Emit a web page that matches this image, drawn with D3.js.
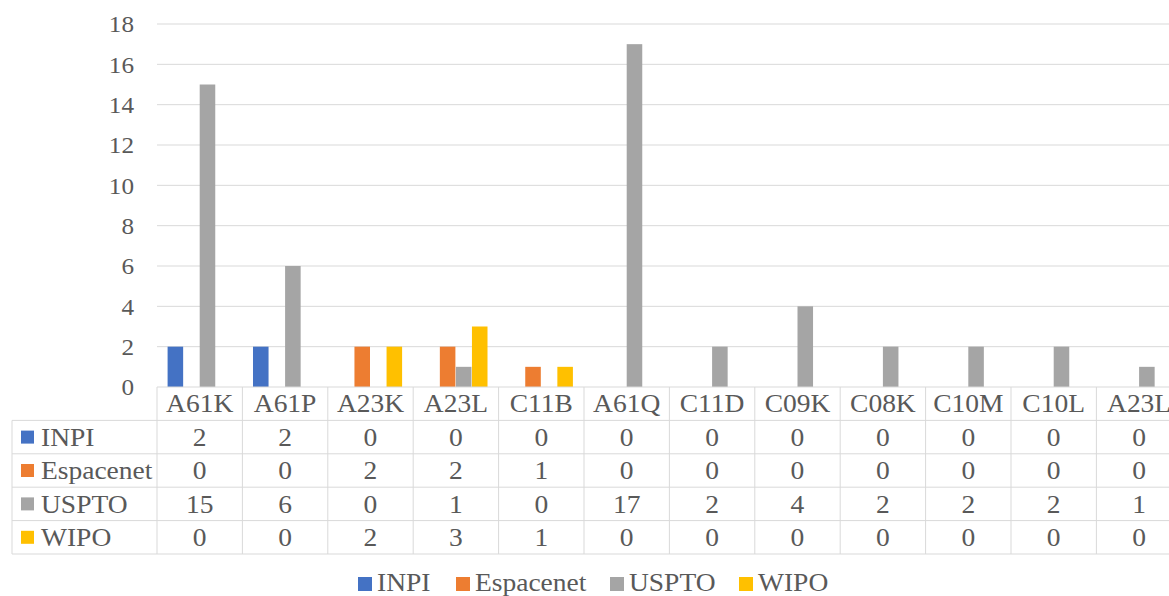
<!DOCTYPE html>
<html>
<head>
<meta charset="utf-8">
<script src="https://cdn.jsdelivr.net/npm/d3@7"></script>
<style>
	body { margin: 0; background: #fff; }
	text { font-family: "Liberation Serif", "Times New Roman", serif; fill: #595959; }
</style>
</head>
<body>
<svg id="chart" width="1169" height="596"></svg>
<script>
const categories = ["A61K", "A61P", "A23K", "A23L", "C11B", "A61Q", "C11D", "C09K", "C08K", "C10M", "C10L", "A23L"];
const seriesNames = ["INPI", "Espacenet", "USPTO", "WIPO"];
const inpi = [2, 2, 0, 0, 0, 0, 0, 0, 0, 0, 0, 0];
const espacenet = [0, 0, 2, 2, 1, 0, 0, 0, 0, 0, 0, 0];
const uspto = [15, 6, 0, 1, 0, 17, 2, 4, 2, 2, 2, 1];
const wipo = [0, 0, 2, 3, 1, 0, 0, 0, 0, 0, 0, 0];
const yTicks = [0, 2, 4, 6, 8, 10, 12, 14, 16, 18];

const colors = ["#4472C4", "#ED7D31", "#A5A5A5", "#FFC000"];
const series = [inpi, espacenet, uspto, wipo];

var svg = d3.select("#chart");
var plotLeft = 157, colW = 85.4, plotTop = 24, plotBottom = 387, rowH = 33.4, tableLeft = 12;
var gridColor = "#D9D9D9";

// widen text a little, the source picture is stretched horizontally
function stretch(sel, k) {
	sel.attr("transform", function() {
		var tx = +this.getAttribute("x") || 0, ty = +this.getAttribute("y") || 0;
		return "translate(" + tx + "," + ty + ") scale(" + k + ",1) translate(" + (-tx) + "," + (-ty) + ")";
	});
}

var x = d3.scaleBand()
	.domain(d3.range(categories.length))
	.range([plotLeft, plotLeft + colW * categories.length]);
var xs = d3.scaleBand()
	.domain(seriesNames)
	.range([0, colW])
	.paddingOuter(0.66);
var y = d3.scaleLinear()
	.domain([0, 18])
	.range([plotBottom, plotTop]);
var color = d3.scaleOrdinal().domain(seriesNames).range(colors);

// gridlines
svg.append("g")
	.selectAll("line")
	.data(yTicks.slice(1))
	.enter().append("line")
		.attr("x1", plotLeft).attr("x2", 1169)
		.attr("y1", d => y(d)).attr("y2", d => y(d))
		.attr("stroke", gridColor).attr("stroke-width", 1);

// y axis labels
var yAxis = svg.append("g")
	.attr("transform", "translate(134,0)")
	.call(d3.axisLeft(y).tickValues(yTicks).tickSize(0).tickPadding(0));
yAxis.select(".domain").remove();
yAxis.selectAll("text")
	.style("font-family", "'Liberation Serif', serif")
	.style("font-size", "24px")
	.attr("fill", "#595959")
	.call(stretch, 1.05);

// bars
seriesNames.forEach((name, si) => {
	svg.append("g")
		.selectAll("rect")
		.data(series[si])
		.enter().append("rect")
			.attr("x", (d, i) => x(i) + xs(name))
			.attr("width", xs.bandwidth() - 0.5)
			.attr("y", d => y(d))
			.attr("height", d => plotBottom - y(d))
			.attr("fill", color(name));
});

// data table
var rowsTop = plotBottom + rowH;
var tableBottom = plotBottom + rowH * 5;
var tbl = svg.append("g");
tbl.append("line")
	.attr("x1", plotLeft).attr("x2", 1169)
	.attr("y1", plotBottom).attr("y2", plotBottom)
	.attr("stroke", gridColor);
d3.range(1, 6).forEach(r => {
	tbl.append("line")
		.attr("x1", tableLeft).attr("x2", 1169)
		.attr("y1", plotBottom + r * rowH).attr("y2", plotBottom + r * rowH)
		.attr("stroke", gridColor);
});
tbl.append("line")
	.attr("x1", tableLeft).attr("x2", tableLeft)
	.attr("y1", rowsTop).attr("y2", tableBottom)
	.attr("stroke", gridColor);
d3.range(categories.length + 1).forEach(i => {
	var xx = plotLeft + i * colW;
	tbl.append("line")
		.attr("x1", xx).attr("x2", xx)
		.attr("y1", plotBottom).attr("y2", tableBottom)
		.attr("stroke", gridColor);
});
// header
tbl.selectAll(".hdr")
	.data(categories)
	.enter().append("text")
		.attr("class", "hdr")
		.attr("x", (d, i) => x(i) + colW / 2)
		.attr("y", plotBottom + rowH / 2)
		.attr("dy", "0.35em")
		.attr("text-anchor", "middle")
		.style("font-size", "25px")
		.text(d => d)
		.call(stretch, 1.1);
// rows
seriesNames.forEach((name, si) => {
	var cy = rowsTop + si * rowH + rowH / 2;
	tbl.append("rect")
		.attr("x", 21).attr("y", cy - 6.5)
		.attr("width", 13).attr("height", 13)
		.attr("fill", color(name));
	tbl.append("text")
		.attr("x", 41).attr("y", cy)
		.attr("dy", "0.35em")
		.style("font-size", "25px")
		.text(name)
		.call(stretch, 1.1);
	tbl.selectAll(".v" + si)
		.data(series[si])
		.enter().append("text")
			.attr("x", (d, i) => x(i) + colW / 2)
			.attr("y", cy)
			.attr("dy", "0.35em")
			.attr("text-anchor", "middle")
			.style("font-size", "25px")
			.text(d => d)
			.call(stretch, 1.1);
});

// legend
var legendX = [358, 456, 610, 739];
var leg = svg.append("g");
seriesNames.forEach((name, si) => {
	leg.append("rect")
		.attr("x", legendX[si]).attr("y", 577)
		.attr("width", 14).attr("height", 14)
		.attr("fill", color(name));
	leg.append("text")
		.attr("x", legendX[si] + 19).attr("y", 591)
		.style("font-size", "25px")
		.text(name)
		.call(stretch, 1.1);
});
</script>
</body>
</html>
